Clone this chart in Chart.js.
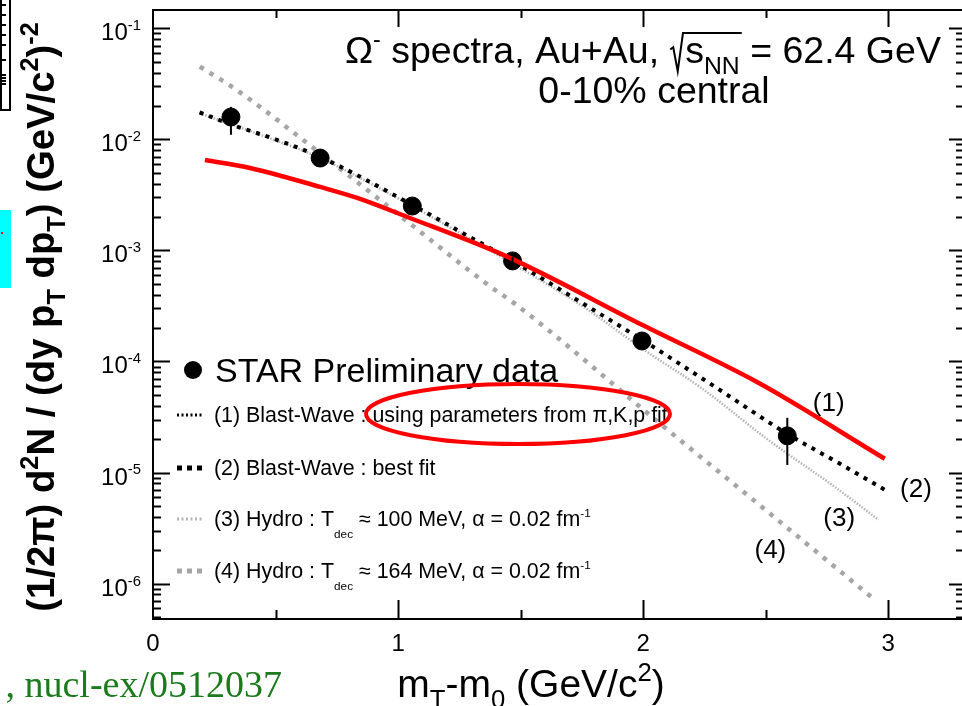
<!DOCTYPE html>
<html>
<head>
<meta charset="utf-8">
<script src="https://cdn.jsdelivr.net/npm/chart.js@4.4.1/dist/chart.umd.min.js"></script>
<style>
  html, body { margin: 0; padding: 0; background: #fff; overflow: hidden; }
  #wrap { position: relative; width: 962px; height: 706px; overflow: hidden; }
</style>
</head>
<body>
<div id="wrap"><canvas id="omega-chart" width="974" height="706"></canvas></div>
<script>
// Omega- mT spectra, Au+Au sqrt(sNN) = 62.4 GeV, 0-10% central

// STAR preliminary points
const dataX = [0.318, 0.682, 1.058, 1.467, 1.995, 2.588];
const dataY = [0.0159, 0.00679, 0.00251, 0.000805, 0.000153, 0.0000214];
const dataErrLow = [0.0110, 0.0062, 0.00231, 0.00074, 0.000141, 0.0000117];
const dataErrHigh = [0.0196, 0.0074, 0.00273, 0.00087, 0.000166, 0.0000311];

// (1) Blast-Wave using parameters from pi,K,p fit
const bwPikpX = [0.212, 0.396, 0.682, 0.833, 1.038, 1.447, 1.995, 2.47, 2.986];
const bwPikpY = [6.52e-3, 5.53e-3, 3.73e-3, 2.97e-3, 2.00e-3, 8.75e-4, 2.14e-4, 6.43e-5, 1.33e-5];

// (2) Blast-Wave best fit
const bwBestX = [0.19, 0.318, 0.5, 0.682, 1.058, 1.25, 1.467, 1.75, 1.995, 2.3, 2.588, 2.8, 3.0];
const bwBestY = [0.0175, 0.01364, 0.0100, 6.95e-3, 2.57e-3, 1.49e-3, 8.05e-4, 3.37e-4, 1.57e-4, 5.78e-5, 2.23e-5, 1.21e-5, 6.70e-6];

// (3) Hydro, Tdec ~ 100 MeV
const hydro100X = [0.19, 0.5, 0.682, 1.058, 1.467, 1.758, 2.004, 2.237, 2.51, 2.781, 2.96];
const hydro100Y = [0.0172, 9.8e-3, 6.8e-3, 2.5e-3, 7.6e-4, 3.09e-4, 1.27e-4, 5.78e-5, 1.97e-5, 7.45e-6, 3.76e-6];

// (4) Hydro, Tdec ~ 164 MeV
const hydro164X = [0.191, 0.341, 0.682, 1.0, 1.377, 1.472, 2.10, 2.5, 2.945];
const hydro164Y = [0.0452, 0.0279, 7.5e-3, 2.12e-3, 4.72e-4, 3.37e-4, 2.42e-5, 4.59e-6, 7.15e-7];

// curve number tags next to the line ends
const curveTags = ['(1)', '(2)', '(3)', '(4)'];
const curveTagX = [2.757, 3.113, 2.80, 2.519];
const curveTagY = [4.33e-5, 7.2e-6, 3.99e-6, 2.06e-6];

// axis ranges and tick labels
const X_MIN = 0, X_MAX = 3.309;
const Y_MIN = 4.8e-7, Y_MAX = 0.1462;
const xTickValues = [0, 1, 2, 3];
const yDecades = [-1, -2, -3, -4, -5, -6];

const FONT = 'Arial, "Liberation Sans", Helvetica, sans-serif';

function toPoints(xs, ys) {
    return xs.map((x, i) => ({ x: x, y: ys[i] }));
}

// Draws text made of [string, mode] parts; mode '' | 'sub' | 'sup' | 'low'
function drawRich(ctx, parts, x, y, size, opts) {
    opts = opts || {};
    const weight = opts.bold ? 'bold ' : '';
    const smallRatio = opts.small || 0.62;
    const fontFor = mode => weight + (mode ? size * smallRatio : size) + 'px ' + FONT;
    let width = 0;
    parts.forEach(([t, mode]) => {
        ctx.font = fontFor(mode);
        width += ctx.measureText(t).width;
    });
    let cx = x;
    if (opts.align === 'center') cx = x - width / 2;
    else if (opts.align === 'right') cx = x - width;
    ctx.textAlign = 'left';
    ctx.textBaseline = 'alphabetic';
    parts.forEach(([t, mode]) => {
        ctx.font = fontFor(mode);
        let dy = 0;
        if (mode === 'sub') dy = size * 0.28;
        else if (mode === 'low') dy = size * 0.55;
        else if (mode === 'sup') dy = -size * 0.42;
        ctx.fillText(t, cx, y + dy);
        cx += ctx.measureText(t).width;
    });
    return cx;
}

function strokeSample(ctx, x0, x1, y, color, width, dash) {
    ctx.save();
    ctx.strokeStyle = color;
    ctx.lineWidth = width;
    ctx.setLineDash(dash);
    ctx.beginPath();
    ctx.moveTo(x0, y);
    ctx.lineTo(x1, y);
    ctx.stroke();
    ctx.restore();
}

const errorBars = {
    id: 'errorBars',
    afterDatasetsDraw(chart) {
        const ctx = chart.ctx;
        const xs = chart.scales.x, ys = chart.scales.y;
        ctx.save();
        ctx.strokeStyle = '#000';
        ctx.lineWidth = 2;
        dataX.forEach((x, i) => {
            const px = xs.getPixelForValue(x);
            ctx.beginPath();
            ctx.moveTo(px, ys.getPixelForValue(dataErrLow[i]));
            ctx.lineTo(px, ys.getPixelForValue(dataErrHigh[i]));
            ctx.stroke();
        });
        ctx.restore();
    }
};

const frameAndText = {
    id: 'frameAndText',
    afterDraw(chart) {
        const ctx = chart.ctx;
        const area = chart.chartArea;
        const xs = chart.scales.x, ys = chart.scales.y;
        ctx.save();
        ctx.fillStyle = '#000';
        ctx.strokeStyle = '#000';
        ctx.lineWidth = 2;

        // frame
        ctx.strokeRect(area.left, area.top, area.right - area.left, area.bottom - area.top);

        // log ticks on left and right sides, pointing inward
        ctx.beginPath();
        for (let e = -7; e <= -1; e++) {
            for (let m = 1; m <= 9; m++) {
                const v = m * Math.pow(10, e);
                if (v < Y_MIN || v > Y_MAX) continue;
                const py = Math.round(ys.getPixelForValue(v)) + 0.5;
                const lenL = m === 1 ? 17 : 8;
                const lenR = m === 1 ? 15 : 8;
                ctx.moveTo(area.left, py);
                ctx.lineTo(area.left + lenL, py);
                ctx.moveTo(area.right, py);
                ctx.lineTo(area.right - lenR, py);
            }
        }
        // linear ticks on bottom and top every 0.5
        for (let v = 0.5; v < X_MAX; v += 0.5) {
            const px = Math.round(xs.getPixelForValue(v)) + 0.5;
            const major = Math.abs(v - Math.round(v)) < 1e-6;
            ctx.moveTo(px, area.bottom);
            ctx.lineTo(px, area.bottom - (major ? 19 : 9));
            ctx.moveTo(px, area.top);
            ctx.lineTo(px, area.top + (major ? 17 : 8));
        }
        ctx.stroke();

        // y tick labels
        yDecades.forEach(e => {
            const py = ys.getPixelForValue(Math.pow(10, e));
            drawRich(ctx, [['10', ''], [String(e), 'sup']], 141, py + 12, 24, { align: 'right' });
        });
        // x tick labels
        ctx.font = '24px ' + FONT;
        ctx.textAlign = 'center';
        ctx.textBaseline = 'alphabetic';
        xTickValues.forEach(v => {
            ctx.fillText(String(v), xs.getPixelForValue(v), 651);
        });

        // x axis title
        drawRich(ctx, [['m', ''], ['T', 'sub'], ['-m', ''], ['0', 'sub'], [' (GeV/c', ''], ['2', 'sup'], [')', '']],
            531, 697, 39, { align: 'center', small: 0.66 });

        // y axis title, rotated
        ctx.save();
        ctx.translate(54, 317);
        ctx.rotate(-Math.PI / 2);
        drawRich(ctx, [['(1/2\u03C0) d', ''], ['2', 'sup'], ['N / (dy p', ''], ['T', 'sub'], [' dp', ''], ['T', 'sub'],
            [') (GeV/c', ''], ['2', 'sup'], [')', ''], ['-2', 'sup']], 0, 0, 38.3, { align: 'center', bold: true, small: 0.66 });
        ctx.restore();

        // title: Omega- spectra, Au+Au, sqrt(sNN) = 62.4 GeV
        const tSize = 37.5, tBase = 63;
        let tx = drawRich(ctx, [['\u03A9', ''], ['-', 'sup'], [' spectra, Au+Au, ', '']], 345, tBase, tSize);
        const rootStart = tx;
        const sx = tx + 0.42 * tSize;
        const endS = drawRich(ctx, [['s', ''], ['NN', 'sub']], sx, tBase, tSize, { small: 0.66 });
        ctx.save();
        ctx.lineWidth = 2;
        ctx.lineJoin = 'miter';
        ctx.beginPath();
        ctx.moveTo(rootStart + 0.02 * tSize, tBase - 0.36 * tSize);
        ctx.lineTo(rootStart + 0.1 * tSize, tBase - 0.42 * tSize);
        ctx.lineTo(rootStart + 0.22 * tSize, tBase + 0.22 * tSize);
        ctx.lineTo(rootStart + 0.36 * tSize, tBase - 0.8 * tSize);
        ctx.lineTo(endS + 2, tBase - 0.8 * tSize);
        ctx.stroke();
        ctx.restore();
        drawRich(ctx, [[' = 62.4 GeV', '']], endS, tBase, tSize);
        drawRich(ctx, [['0-10% central', '']], 654, 103, tSize, { align: 'center' });

        // legend
        ctx.beginPath();
        ctx.arc(193, 370, 9, 0, Math.PI * 2);
        ctx.fill();
        drawRich(ctx, [['STAR Preliminary data', '']], 215, 382, 34);

        strokeSample(ctx, 177, 204, 415, '#000', 3, [2, 2.5]);
        strokeSample(ctx, 177, 204, 468, '#000', 5, [5, 5]);
        strokeSample(ctx, 177, 204, 519, '#b4b4b4', 3, [2, 2.5]);
        strokeSample(ctx, 177, 204, 571, '#a6a6a6', 5, [5, 5]);
        const lSize = 21.4;
        drawRich(ctx, [['(1) Blast-Wave : using parameters from \u03C0,K,p fit', '']], 214, 422, lSize);
        drawRich(ctx, [['(2) Blast-Wave : best fit', '']], 214, 475, lSize);
        drawRich(ctx, [['(3) Hydro : T', ''], ['dec', 'low'], [' \u2248 100 MeV, \u03B1 = 0.02 fm', ''], ['-1', 'sup']], 214, 526, lSize, { small: 0.55 });
        drawRich(ctx, [['(4) Hydro : T', ''], ['dec', 'low'], [' \u2248 164 MeV, \u03B1 = 0.02 fm', ''], ['-1', 'sup']], 214, 578, lSize, { small: 0.55 });

        // red ellipse around the pi,K,p note
        ctx.save();
        ctx.strokeStyle = '#ff0000';
        ctx.lineWidth = 4;
        ctx.beginPath();
        ctx.ellipse(518, 414, 152, 30, 0, 0, Math.PI * 2);
        ctx.stroke();
        ctx.restore();

        // curve tags
        curveTags.forEach((t, i) => {
            drawRich(ctx, [[t, '']], xs.getPixelForValue(curveTagX[i]), ys.getPixelForValue(curveTagY[i]) + 9, 26, { align: 'center' });
        });

        // bits of the surrounding slide
        ctx.fillStyle = '#00ffff';
        ctx.fillRect(0, 210, 11, 78);
        ctx.fillStyle = '#ff0000';
        ctx.fillRect(1, 232, 2, 2);
        ctx.lineWidth = 2;
        ctx.beginPath();
        ctx.moveTo(1, 0); ctx.lineTo(1, 110);
        ctx.moveTo(10, 0); ctx.lineTo(10, 110);
        ctx.moveTo(0, 110); ctx.lineTo(11, 110);
        [5, 15, 25, 35, 45, 60, 75, 78, 81, 84].forEach(py => {
            ctx.moveTo(1, py); ctx.lineTo(6, py);
        });
        ctx.stroke();
        ctx.fillStyle = '#1b7a1b';
        ctx.font = '38px "Liberation Serif", "Times New Roman", serif';
        ctx.textAlign = 'right';
        ctx.fillText(', nucl-ex/0512037', 282, 697);
        ctx.restore();
    }
};

const datasets = [
    {
        label: '(1) Blast-Wave : using parameters from pi,K,p fit',
        data: toPoints(bwPikpX, bwPikpY),
        borderColor: '#ff0000',
        borderWidth: 4.5,
        pointRadius: 0,
        fill: false,
        cubicInterpolationMode: 'monotone'
    },
    {
        label: 'STAR Preliminary data',
        data: toPoints(dataX, dataY),
        showLine: false,
        pointRadius: 9,
        pointBackgroundColor: '#000',
        pointBorderColor: '#000',
        pointBorderWidth: 1
    },
    {
        label: '(2) Blast-Wave : best fit',
        data: toPoints(bwBestX, bwBestY),
        borderColor: '#000',
        borderWidth: 4,
        borderDash: [4, 6],
        pointRadius: 0,
        fill: false,
        cubicInterpolationMode: 'monotone'
    },
    {
        label: '(3) Hydro : Tdec = 100 MeV',
        data: toPoints(hydro100X, hydro100Y),
        borderColor: '#b4b4b4',
        borderWidth: 2.5,
        borderDash: [1.5, 1.5],
        pointRadius: 0,
        fill: false,
        cubicInterpolationMode: 'monotone'
    },
    {
        label: '(4) Hydro : Tdec = 164 MeV',
        data: toPoints(hydro164X, hydro164Y),
        borderColor: '#a6a6a6',
        borderWidth: 4.5,
        borderDash: [4.5, 7],
        pointRadius: 0,
        fill: false,
        cubicInterpolationMode: 'monotone'
    }
];

const ctx = document.getElementById('omega-chart').getContext('2d');
new Chart(ctx, {
    type: 'line',
    data: { datasets: datasets },
    options: {
        responsive: false,
        animation: false,
        devicePixelRatio: 1,
        events: [],
        layout: { padding: { left: 153, top: 10, right: 0, bottom: 87 } },
        scales: {
            x: { type: 'linear', min: X_MIN, max: X_MAX, display: false },
            y: { type: 'logarithmic', min: Y_MIN, max: Y_MAX, display: false }
        },
        plugins: {
            legend: { display: false },
            tooltip: { enabled: false }
        }
    },
    plugins: [errorBars, frameAndText]
});
</script>
</body>
</html>
